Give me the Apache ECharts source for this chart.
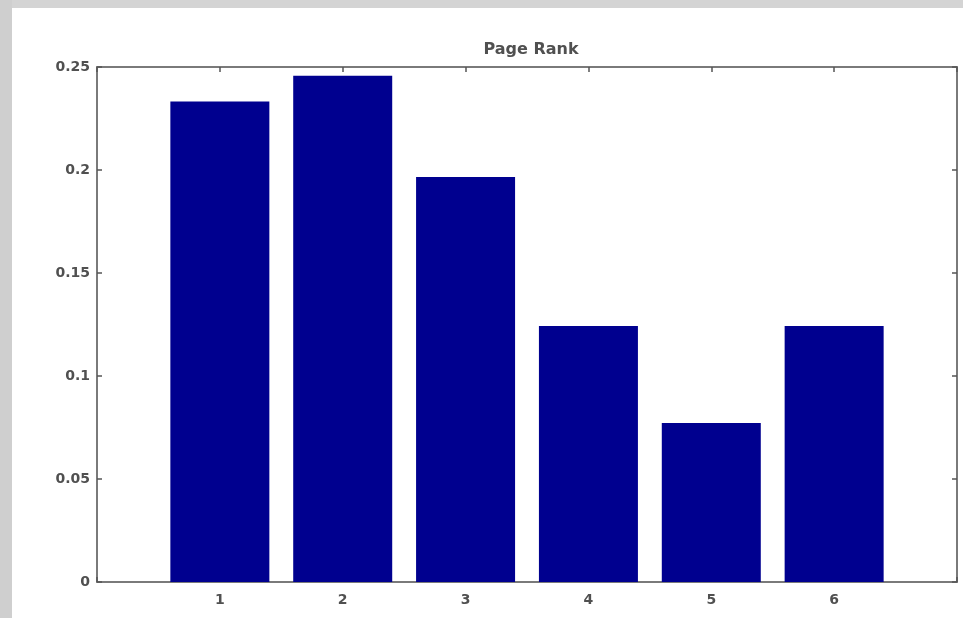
<!DOCTYPE html>
<html>
<head>
<meta charset="utf-8">
<script src="https://cdn.jsdelivr.net/npm/echarts@6/dist/echarts.min.js"></script>
<style>
  html, body { margin: 0; padding: 0; background: #fff; }
  #chart { width: 963px; height: 618px; }
</style>
</head>
<body>
<div id="chart"></div>
<script>
const categories = [1, 2, 3, 4, 5, 6];
const rankValues = [0.2333, 0.2458, 0.1966, 0.1243, 0.0772, 0.1243];
const yTicks = [0, 0.05, 0.1, 0.15, 0.2, 0.25];

const chart = echarts.init(document.getElementById("chart"));
const axisGrey = "#7a7a7a";
const labelFont = { color: "#505050", fontSize: 14, fontWeight: "bold", fontFamily: "DejaVu Sans, sans-serif" };

// MATLAB-style box: ticks inside on all four sides
function boxAxis(extra) {
  return Object.assign({
    type: "value",
    axisLine: { show: true, onZero: false, lineStyle: { color: axisGrey, width: 2 } },
    axisTick: { show: true, inside: true, length: 5, lineStyle: { color: "#555", width: 1.5 } },
    splitLine: { show: false }
  }, extra);
}

const option = {
  animation: false,
  backgroundColor: "#fff",
  title: {
    text: "Page Rank",
    left: 526,
    textAlign: "center",
    top: 37,
    textStyle: { color: "#505050", fontSize: 16, fontWeight: "bold", fontFamily: "DejaVu Sans, sans-serif" }
  },
  graphic: [
    { type: "rect", shape: { x: 0, y: 0, width: 963, height: 8 }, style: { fill: "#d4d4d4" }, silent: true },
    { type: "rect", shape: { x: 0, y: 0, width: 12, height: 618 }, style: { fill: "#cfcfcf" }, silent: true }
  ],
  grid: { left: 97, right: 6, top: 67, bottom: 36 },
  xAxis: [
    boxAxis({
      min: 0, max: 7, interval: 1, position: "bottom",
      axisLabel: Object.assign({ margin: 11, formatter: v => (categories.includes(v) ? String(v) : "") }, labelFont)
    }),
    boxAxis({ min: 0, max: 7, interval: 1, position: "top", axisLabel: { show: false } })
  ],
  yAxis: [
    boxAxis({
      min: 0, max: 0.25, interval: 0.05, position: "left",
      axisLabel: Object.assign({ margin: 7, formatter: v => String(yTicks.find(t => Math.abs(t - v) < 1e-9) ?? v) }, labelFont)
    }),
    boxAxis({ min: 0, max: 0.25, interval: 0.05, position: "right", axisLabel: { show: false } })
  ],
  series: [
    {
      type: "bar",
      barWidth: 99,
      itemStyle: { color: "#00008f" },
      data: categories.map((c, i) => [c, rankValues[i]])
    }
  ]
};
chart.setOption(option);
</script>
</body>
</html>
